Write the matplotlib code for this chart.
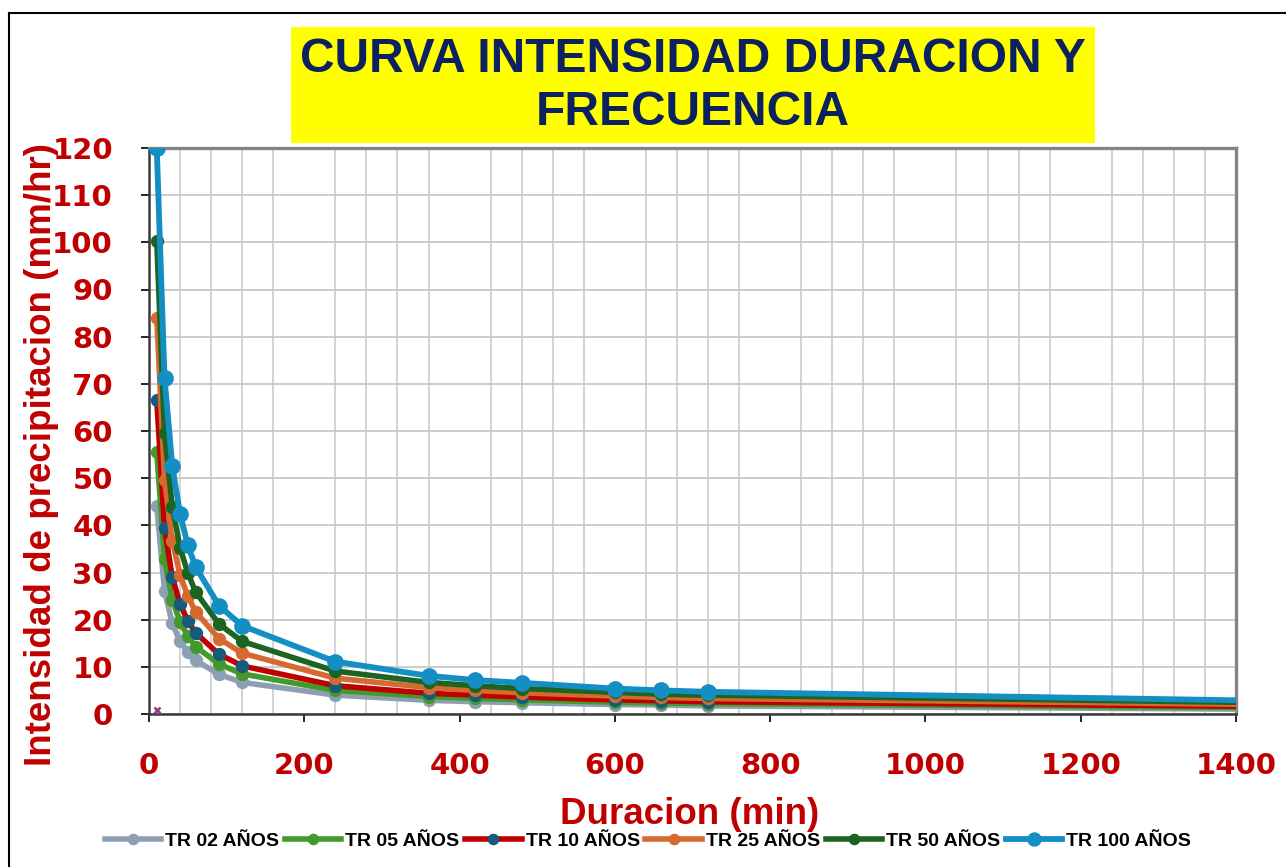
import matplotlib
matplotlib.use('Agg')
import matplotlib.pyplot as plt
from matplotlib.patches import Rectangle
from matplotlib.lines import Line2D
from matplotlib.ticker import MultipleLocator

# duration (min) and intensity (mm/hr) per return period
duracion = [10, 20, 30, 40, 50, 60, 90, 120, 240, 360, 420, 480, 600, 660, 720, 1440]
tr02 = [44.0, 26.1, 19.2, 15.4, 13.1, 11.4, 8.4, 6.7, 4.0, 2.9, 2.6, 2.4, 2.0, 1.9, 1.7, 1.0]
tr05 = [55.5, 32.9, 24.2, 19.5, 16.5, 14.3, 10.6, 8.5, 5.0, 3.7, 3.3, 3.0, 2.5, 2.3, 2.2, 1.3]
tr10 = [66.5, 39.4, 29.0, 23.3, 19.8, 17.2, 12.7, 10.2, 6.0, 4.4, 4.0, 3.6, 3.0, 2.8, 2.6, 1.6]
tr25 = [84.0, 49.7, 36.6, 29.5, 25.0, 21.7, 16.0, 12.9, 7.6, 5.6, 5.0, 4.5, 3.8, 3.5, 3.3, 2.0]
tr50 = [100.3, 59.5, 43.9, 35.3, 29.9, 25.9, 19.1, 15.4, 9.1, 6.7, 6.0, 5.4, 4.6, 4.2, 4.0, 2.4]
tr100 = [120.0, 71.2, 52.6, 42.4, 35.8, 31.2, 23.0, 18.7, 11.1, 8.1, 7.2, 6.6, 5.4, 5.0, 4.7, 2.8]
stray_x = [10]
stray_y = [0.85]

labels = ['TR 02 AÑOS', 'TR 05 AÑOS', 'TR 10 AÑOS', 'TR 25 AÑOS', 'TR 50 AÑOS', 'TR 100 AÑOS']
series = [tr02, tr05, tr10, tr25, tr50, tr100]
line_cols = ['#8DA0B3', '#439A2B', '#C00000', '#D5692F', '#1B6421', '#138FC3']
mark_cols = ['#8DA0B3', '#439A2B', '#165A7C', '#D5692F', '#1B6421', '#138FC3']

RED = '#C00000'
ARIAL = ['Liberation Sans', 'DejaVu Sans']

fig = plt.figure(figsize=(12.86, 8.67), dpi=100)
ax = fig.add_axes([149 / 1286, 1 - 714 / 867, (1236 - 149) / 1286, (714 - 148) / 867])

for ys, lab, lc, mc in zip(series, labels, line_cols, mark_cols):
    big = lab == 'TR 100 AÑOS'
    ax.plot(duracion, ys, color=lc, lw=4.2 if big else 4.0, marker='o',
            ms=11 if big else 8.6, mfc=mc, mec=mc, label=lab, zorder=3)
ax.plot(stray_x, stray_y, ls='none', marker='x', ms=4, mew=1.8, color='#8E3A8E', zorder=3)

ax.set_xlim(0, 1400)
ax.set_ylim(0, 120)
ax.xaxis.set_major_locator(MultipleLocator(200))
ax.xaxis.set_minor_locator(MultipleLocator(40))
ax.yaxis.set_major_locator(MultipleLocator(10))
ax.grid(True, which='minor', axis='x', color='#C8C8C8', lw=1.1)
ax.grid(True, which='major', axis='y', color='#C8C8C8', lw=1.3)
ax.set_axisbelow(True)

ax.tick_params(axis='both', which='major', direction='out', length=6, width=1.2, color='black',
               labelcolor=RED, labelsize=21)
ax.tick_params(axis='x', which='major', pad=21)
ax.tick_params(axis='y', which='major', pad=20)
ax.tick_params(axis='x', which='minor', length=0)
for t in ax.get_xticklabels() + ax.get_yticklabels():
    t.set_fontweight('bold')

for s in ['top', 'right']:
    ax.spines[s].set_color('#858585')
    ax.spines[s].set_linewidth(2.4)
for s in ['left', 'bottom']:
    ax.spines[s].set_color('#3A3A3A')
    ax.spines[s].set_linewidth(1.8)

ax.set_ylabel('Intensidad de precipitacion (mm/hr)', color=RED, fontsize=26.5,
              fontweight='bold', family=ARIAL)
ax.yaxis.set_label_coords(-90 / 1087, 0.458)
fig.text(690 / 1286, 1 - 815 / 867, 'Duracion (min)', color=RED, fontsize=26.5,
         fontweight='bold', family=ARIAL, ha='center', va='center')

# title in yellow box
fig.patches.append(Rectangle((291 / 1286, 1 - 143 / 867), (1095 - 291) / 1286, (143 - 27) / 867,
                             transform=fig.transFigure, facecolor='#FFFF00', edgecolor='none'))
fig.text(693 / 1286, 1 - 86 / 867, 'CURVA INTENSIDAD DURACION Y\nFRECUENCIA', color='#0C2160',
         fontsize=34.5, fontweight='bold', family=ARIAL,
         ha='center', va='center', linespacing=1.22)

# chart frame (left and top edges visible)
fig.add_artist(Line2D([9 / 1286, 9 / 1286], [0, 1 - 13 / 867], transform=fig.transFigure,
                      color='black', lw=1.5))
fig.add_artist(Line2D([9 / 1286, 1], [1 - 13 / 867, 1 - 13 / 867], transform=fig.transFigure,
                      color='black', lw=1.5))

leg = fig.legend(loc='center', bbox_to_anchor=(648 / 1286, 1 - 841 / 867), ncol=6, frameon=False,
                 prop={'family': ARIAL, 'weight': 'bold', 'size': 14},
                 handlelength=2.9, handletextpad=0.2, columnspacing=0.3, markerscale=0.85)

plt.savefig('out.png', dpi=100)
plt.close()
